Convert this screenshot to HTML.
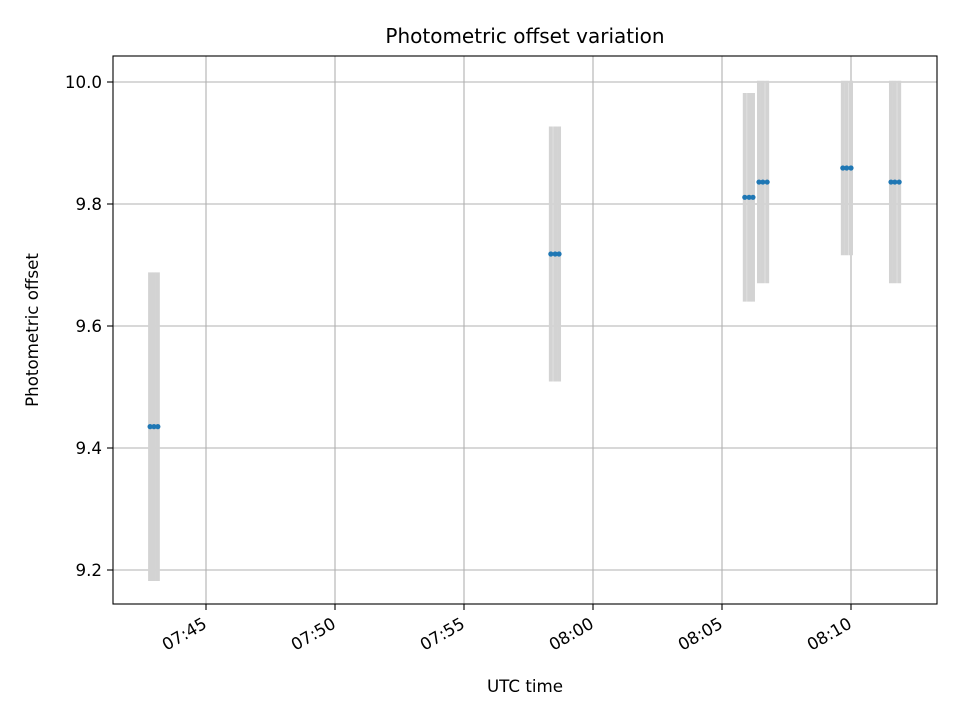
<!DOCTYPE html>
<html><head><meta charset="utf-8"><style>
body{margin:0;background:#fff}
svg{display:block;font-family:"DejaVu Sans","Liberation Sans",sans-serif}
</style></head><body>
<svg id="chart" width="960" height="720" viewBox="0 0 960 720" xmlns="http://www.w3.org/2000/svg">
<rect width="960" height="720" fill="#fff"/>
<g id="grid"></g>
<g id="errs"></g>
<g id="pts"></g>
<rect x="113" y="56" width="824" height="548" fill="none" stroke="#000" stroke-width="1.1"/>
<g id="ticks"></g>
<text x="525" y="43" font-size="20" text-anchor="middle">Photometric offset variation</text>
<text x="525" y="692" font-size="16.7" text-anchor="middle">UTC time</text>
<text transform="translate(38,330) rotate(-90)" font-size="16.7" text-anchor="middle">Photometric offset</text>
</svg>
<script>
const times = ["07:42:50","07:42:59","07:43:08","07:58:22","07:58:32","07:58:41","08:05:53","08:06:03","08:06:12","08:06:26","08:06:35","08:06:45","08:09:41","08:09:50","08:10:00","08:11:33","08:11:42","08:11:52"];
const offsets = [9.435,9.435,9.435,9.718,9.718,9.718,9.811,9.811,9.811,9.836,9.836,9.836,9.859,9.859,9.859,9.836,9.836,9.836];
const errors = [0.253,0.253,0.253,0.209,0.209,0.209,0.171,0.171,0.171,0.166,0.166,0.166,0.143,0.143,0.143,0.166,0.166,0.166];
const xTickLabels = ["07:45","07:50","07:55","08:00","08:05","08:10"];
const yTickValues = [9.2,9.4,9.6,9.8,10.0];

const NS="http://www.w3.org/2000/svg";
function toMin(t){const p=t.split(":").map(Number);return p[0]*60+p[1]+(p[2]||0)/60;}
const X0=toMin("07:45"), PXM=25.8;
function xs(t){return 206+(toMin(t)-X0)*PXM;}
function ys(v){return 570-(v-9.2)*610;}
function mk(tag,attrs,parent){const e=document.createElementNS(NS,tag);for(const k in attrs)e.setAttribute(k,attrs[k]);parent.appendChild(e);return e;}
const grid=document.getElementById("grid"),ticks=document.getElementById("ticks");
xTickLabels.forEach(l=>{
  const x=xs(l);
  const g=mk("line",{x1:x,x2:x,y1:56,y2:604,stroke:"#b0b0b0","stroke-width":1.1},grid);
  
  
  const t=mk("line",{x1:x,x2:x,y1:604,y2:610,stroke:"#000","stroke-width":1.1},ticks);
  
  
  const tx=mk("text",{x:0,y:0,"font-size":16.7,"text-anchor":"end",transform:`translate(${x+2},${627}) rotate(-30)`},ticks);
  tx.textContent=l;
  
  
});
yTickValues.forEach(v=>{
  const y=ys(v);
  const g=mk("line",{x1:113,x2:937,y1:y,y2:y,stroke:"#b0b0b0","stroke-width":1.1},grid);
  
  
  const t=mk("line",{x1:107,x2:113,y1:y,y2:y,stroke:"#000","stroke-width":1.1},ticks);
  
  
  const tx=mk("text",{x:102,y:y+6,"font-size":16.7,"text-anchor":"end"},ticks);
  tx.textContent=v.toFixed(1);
  
  
});
const errs=document.getElementById("errs"),pts=document.getElementById("pts");
times.forEach((t,i)=>{
  const x=xs(t);
  const e=mk("line",{x1:x,x2:x,y1:ys(offsets[i]+errors[i]),y2:ys(offsets[i]-errors[i]),stroke:"#d3d3d3","stroke-width":4},errs);
  
  
});
times.forEach((t,i)=>{
  const c=mk("circle",{cx:xs(t),cy:ys(offsets[i]),r:2.6,fill:"#1f77b4"},pts);
  
  
});
</script>
</body></html>
